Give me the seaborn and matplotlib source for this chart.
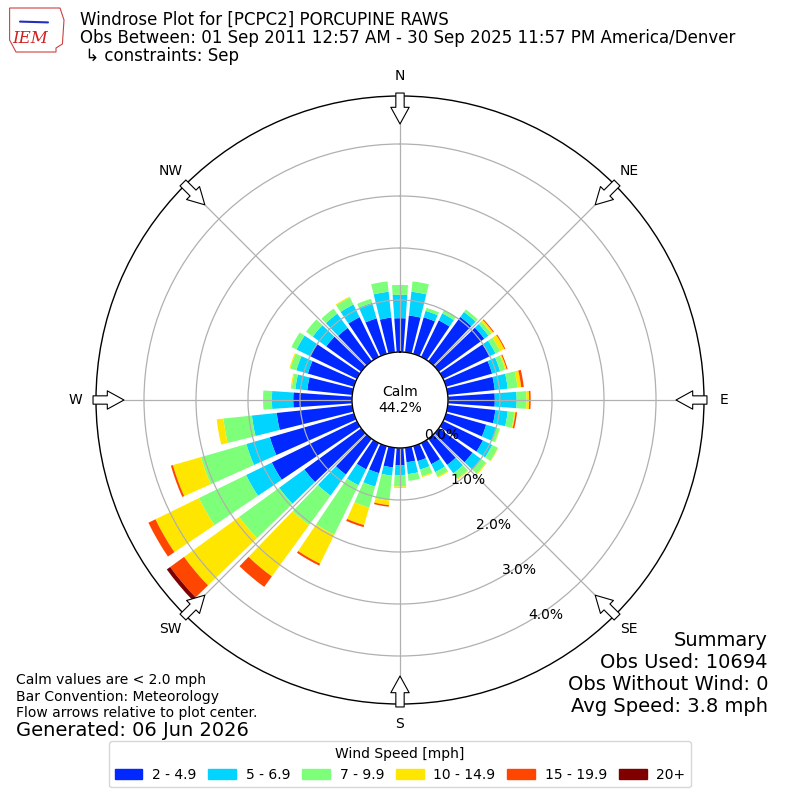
import numpy as np
import matplotlib
matplotlib.use('Agg')
import matplotlib.pyplot as plt
import seaborn as sns
from matplotlib.patches import Patch, Polygon

# wind directions (deg, bar centres) and frequency [%] of each speed bin
directions = np.arange(0, 360, 10)
speed_bins = ['2 - 4.9', '5 - 6.9', '7 - 9.9', '10 - 14.9', '15 - 19.9', '20+']
pct_2_5 = [0.65, 0.71, 0.73, 0.78, 1.05, 1.08, 0.99, 0.92, 0.91, 0.90, 0.92, 0.80,
           0.85, 0.80, 0.62, 0.45, 0.30, 0.28, 0.33, 0.38, 0.54, 0.56, 0.85, 1.35,
           1.82, 1.68, 1.46, 1.13, 0.87, 0.92, 1.00, 0.83, 0.79, 0.85, 0.71, 0.67]
pct_5_7 = [0.45, 0.46, 0.13, 0.15, 0.12, 0.10, 0.13, 0.16, 0.25, 0.42, 0.24, 0.20,
           0.20, 0.20, 0.20, 0.17, 0.17, 0.23, 0.19, 0.16, 0.27, 0.34, 0.50, 0.60,
           0.55, 0.47, 0.48, 0.41, 0.23, 0.23, 0.29, 0.32, 0.34, 0.27, 0.31, 0.50]
pct_7_10 = [0.19, 0.20, 0.06, 0.07, 0.06, 0.07, 0.10, 0.10, 0.19, 0.19, 0.13, 0.07,
            0.12, 0.12, 0.13, 0.10, 0.13, 0.13, 0.22, 0.48, 0.42, 1.06, 0.70, 0.95,
            1.01, 0.91, 0.55, 0.17, 0.07, 0.12, 0.11, 0.16, 0.12, 0.15, 0.08, 0.20]
pct_10_15 = [0.00, 0.00, 0.00, 0.00, 0.00, 0.04, 0.09, 0.03, 0.07, 0.05, 0.02, 0.01,
             0.01, 0.02, 0.02, 0.02, 0.02, 0.00, 0.03, 0.09, 0.35, 0.62, 1.22, 1.31,
             0.93, 0.56, 0.13, 0.00, 0.02, 0.02, 0.00, 0.00, 0.00, 0.02, 0.00, 0.00]
pct_15_20 = [0.00, 0.00, 0.00, 0.00, 0.00, 0.02, 0.02, 0.02, 0.05, 0.03, 0.03, 0.00,
             0.00, 0.00, 0.00, 0.00, 0.00, 0.00, 0.00, 0.03, 0.04, 0.04, 0.25, 0.33,
             0.15, 0.04, 0.00, 0.00, 0.00, 0.00, 0.00, 0.00, 0.00, 0.00, 0.00, 0.00]
pct_20 = [0.00, 0.00, 0.00, 0.00, 0.00, 0.00, 0.00, 0.00, 0.00, 0.00, 0.00, 0.00,
          0.00, 0.00, 0.00, 0.00, 0.00, 0.00, 0.00, 0.00, 0.00, 0.00, 0.00, 0.08,
          0.00, 0.00, 0.00, 0.00, 0.00, 0.00, 0.00, 0.00, 0.00, 0.00, 0.00, 0.00]
calm_pct = 44.2
ring_values = [0, 1, 2, 3, 4]
compass = ['N', 'NE', 'E', 'SE', 'S', 'SW', 'W', 'NW']

sns.set_style('white')
plt.rcParams['font.family'] = ['DejaVu Sans']
plt.rcParams['axes.axisbelow'] = 'line'
for key in ['text.color', 'axes.labelcolor', 'xtick.color', 'ytick.color']:
    plt.rcParams[key] = 'black'
colors = sns.color_palette(['#0028ff', '#00d4ff', '#7dff7a', '#ffe600', '#ff4600', '#800000'])

fig = plt.figure(figsize=(8, 8), dpi=100)
ax = fig.add_axes([0.12, 0.12, 0.76, 0.76], projection='polar')
ax.set_theta_zero_location('N')
ax.set_theta_direction(-1)

rmax = 4.923
ax.set_ylim(0, rmax)
ax.set_rorigin(-0.923)

theta = np.deg2rad(directions)
width = np.deg2rad(8)
bottom = np.zeros(len(directions))
for vals, col in zip([pct_2_5, pct_5_7, pct_7_10, pct_10_15, pct_15_20, pct_20], colors):
    vals = np.array(vals)
    ax.bar(theta, vals, width=width, bottom=bottom, color=col, linewidth=0, zorder=1)
    bottom += vals

# grid / spines
ax.set_xticks(np.deg2rad(np.arange(0, 360, 45)))
ax.set_xticklabels([''] * 8)
ax.set_yticks(ring_values)
ax.set_yticklabels([''] * len(ring_values))
ax.grid(True, color='#b0b0b0', lw=0.9)
ax.tick_params(length=0)
ax.spines['polar'].set_color('black')
ax.spines['polar'].set_linewidth(1.0)
ax.spines['inner'].set_visible(True)
ax.spines['inner'].set_color('black')
ax.spines['inner'].set_linewidth(1.0)

for v in ring_values:
    ax.text(np.deg2rad(150), v, f'{v:.1f}%', ha='left', va='bottom', fontsize=10)

# compass labels and flow arrows
for i, lab in enumerate(compass):
    th = np.deg2rad(i * 45)
    ax.text(th, 5.31, lab, ha='center', va='center', fontsize=10, clip_on=False)
    ax.annotate('', xy=(th, 4.385), xytext=(th, 4.98), annotation_clip=False,
                arrowprops=dict(arrowstyle='simple,head_length=1.0,head_width=1.1,tail_width=0.5',
                                mutation_scale=12, fc='white', ec='black', lw=0.8,
                                shrinkA=0, shrinkB=0))

ax.text(0.5, 0.5, f'Calm\n{calm_pct}%', transform=ax.transAxes, ha='center',
        va='center', fontsize=10)

# header
fig.text(0.1, 0.975, 'Windrose Plot for [PCPC2] PORCUPINE RAWS', fontsize=12, va='center')
fig.text(0.1, 0.9525, 'Obs Between: 01 Sep 2011 12:57 AM - 30 Sep 2025 11:57 PM America/Denver',
         fontsize=12, va='center')
fig.text(0.1, 0.93, ' \u21b3 constraints: Sep', fontsize=12, va='center')

# rough logo
iowa = Polygon([[0.012, 0.99], [0.075, 0.99], [0.08, 0.975], [0.078, 0.945],
                [0.07, 0.94], [0.07, 0.935], [0.02, 0.935], [0.012, 0.95]],
               closed=True, transform=fig.transFigure, fill=False, ec='#d04040', lw=0.8)
fig.add_artist(iowa)
fig.add_artist(plt.Line2D([0.025, 0.06], [0.973, 0.972], transform=fig.transFigure,
                          color='#2030c0', lw=1.5))
fig.text(0.038, 0.952, 'IEM', fontsize=12, color='#d02020', style='italic',
         family='DejaVu Serif', ha='center', va='center')

# footer notes
fig.text(0.02, 0.15, 'Calm values are < 2.0 mph', fontsize=10, va='center')
fig.text(0.02, 0.129, 'Bar Convention: Meteorology', fontsize=10, va='center')
fig.text(0.02, 0.109, 'Flow arrows relative to plot center.', fontsize=10, va='center')
fig.text(0.02, 0.0875, 'Generated: 06 Jun 2026', fontsize=14, va='center')

summary = ['Summary', 'Obs Used: 10694', 'Obs Without Wind: 0', 'Avg Speed: 3.8 mph']
for k, line in enumerate(summary):
    fig.text(0.96, 0.2 - k * 0.0275, line, fontsize=14, ha='right', va='center')

handles = [Patch(color=c) for c in colors]
fig.legend(handles, speed_bins, loc='lower center', bbox_to_anchor=(0.5, 0.007), ncol=6,
           title='Wind Speed [mph]', fontsize=10, title_fontsize=10,
           columnspacing=0.85, handletextpad=0.7, handlelength=2.0)

fig.savefig('out.png', dpi=100)
